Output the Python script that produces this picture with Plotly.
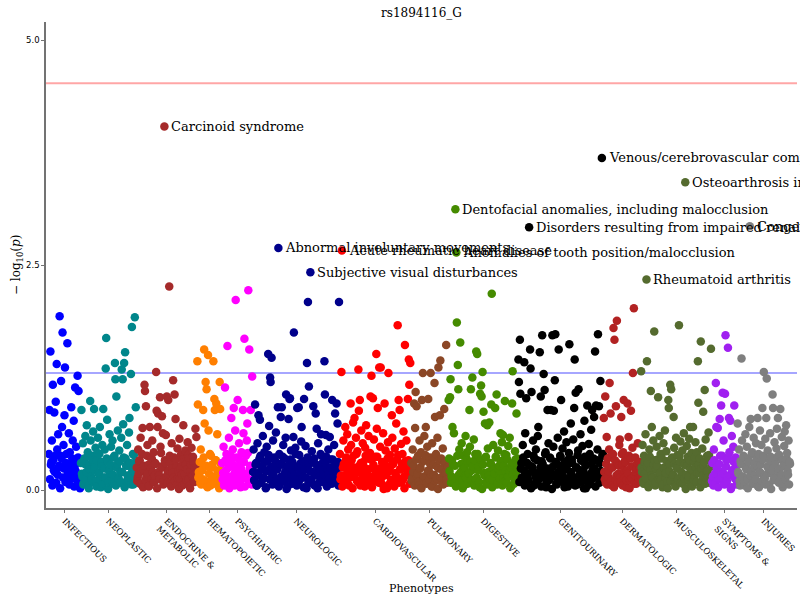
import plotly.graph_objects as go

TITLE = "rs1894116_G"
X_TITLE = "Phenotypes"
Y_TITLE = "− log<sub>10</sub>(<i>p</i>)"
CATEGORIES = ["INFECTIOUS", "NEOPLASTIC", "ENDOCRINE &<br>METABOLIC", "HEMATOPOIETIC",
              "PSYCHIATRIC", "NEUROLOGIC", "CARDIOVASCULAR", "PULMONARY", "DIGESTIVE",
              "GENITOURINARY", "DERMATOLOGIC", "MUSCULOSKELETAL", "SYMPTOMS &<br>SIGNS", "INJURIES"]
COLORS = ["#0000FF", "#00868B", "#A52A2A", "#FF7F00", "#FF00FF", "#00008B", "#FF0000",
          "#8B4726", "#458B00", "#000000", "#B22222", "#556B2F", "#A020F0", "#7F7F7F"]

# -log10(p) per phenotype, left to right within each category
INF = [0.40, 0.89, 1.54, 0.28, 0.55, 1.17, 0.33, 0.86, 0.20, 0.98, 1.40, 0.45, 0.62, 0.25, 1.93,
       0.38, 1.21, 0.70, 1.75, 0.50, 0.83, 1.36, 0.30, 0.10, 1.63, 0.22, 0.63, 0.42, 0.18, 0.92,
       0.35, 0.55, 0.77, 0.26, 1.14, 0.48, 0.14, 1.27, 1.10, 0.32, 0.02]
NEO = [0.30, 0.89, 0.15, 0.52, 0.08, 0.35, 0.60, 0.20, 0.72, 0.42, 0.05, 0.28, 0.99, 0.55, 0.12,
       0.38, 0.65, 0.90, 0.22, 0.47, 0.10, 0.33, 0.58, 0.18, 0.40, 0.70, 0.03, 0.26, 0.50, 0.90,
       0.14, 0.45, 1.35, 1.69, 0.78, 0.32, 0.09, 0.62, 0.24, 0.48, 0.16, 0.55, 0.36, 0.07, 1.41,
       1.23, 1.04, 0.29, 0.66, 0.12, 0.44, 0.20, 0.58, 1.34, 1.23, 0.73, 1.41, 1.53, 0.35, 0.10,
       0.50, 0.27, 0.64, 0.80, 0.17, 1.29, 1.81, 0.40, 0.06, 0.30, 1.92, 0.92]
ENDO = [0.25, 0.10, 0.45, 0.18, 0.33, 0.58, 0.07, 0.40, 0.69, 0.22, 1.17, 1.10, 0.93, 0.15, 0.50,
        0.28, 0.04, 0.70, 0.36, 0.12, 0.55, 0.20, 0.42, 0.09, 0.30, 1.31, 0.88, 0.70, 0.85, 0.16,
        1.03, 0.48, 0.26, 0.82, 0.63, 0.11, 4.04, 0.30, 0.61, 1.04, 0.19, 1.00, 2.26, 0.38, 0.08,
        0.52, 0.24, 1.22, 0.14, 1.06, 0.79, 0.34, 0.06, 0.46, 0.21, 0.57, 0.13, 0.39, 0.27, 0.05,
        0.72, 0.31, 0.17, 0.44, 0.09, 0.23, 0.53, 0.12, 0.35, 0.02, 0.28, 0.47, 0.16, 0.37, 0.10,
        0.25, 0.68, 0.59]
HEMA = [1.43, 0.95, 0.20, 0.18, 0.08, 0.45, 0.30, 0.12, 0.89, 1.56, 0.74, 1.20, 1.12, 0.04, 1.50,
        0.66, 0.25, 0.05, 0.38, 0.28, 0.15, 1.43, 1.01, 0.89, 0.33, 0.96, 0.62, 0.10, 0.11, 1.20,
        0.90, 0.22]
PSY = [0.30, 0.12, 0.48, 0.05, 1.14, 0.22, 0.40, 1.60, 0.15, 0.58, 0.33, 0.08, 0.80, 0.26, 0.45,
       0.91, 0.18, 0.66, 2.11, 0.36, 1.00, 0.10, 0.52, 0.28, 0.03, 0.42, 0.20, 0.89, 0.63, 1.68,
       0.14, 0.38, 0.55, 0.74, 2.22, 1.56, 0.24, 0.89, 0.11, 1.26]
NEURO = [0.20, 0.45, 0.10, 0.95, 0.30, 0.05, 0.52, 0.83, 0.16, 0.78, 0.38, 0.08, 0.27, 0.60, 0.13,
         0.42, 0.22, 0.03, 0.48, 0.33, 1.51, 0.71, 1.25, 1.20, 1.47, 0.18, 0.55, 0.09, 0.36, 0.25,
         0.64, 0.12, 0.92, 2.69, 0.40, 0.06, 0.81, 0.92, 0.28, 0.50, 0.15, 0.35, 0.58, 1.06, 0.21,
         0.04, 0.79, 1.01, 1.02, 0.44, 0.17, 0.31, 0.59, 1.75, 0.11, 0.47, 0.26, 0.91, 0.07, 0.92,
         0.39, 0.19, 0.54, 0.70, 0.14, 0.32, 1.01, 0.23, 0.49, 0.02, 1.41, 2.09, 1.15, 0.29, 2.42,
         0.10, 0.43, 0.20, 0.93, 0.35, 0.05, 0.85, 0.68, 0.16, 0.52, 0.27, 0.09, 0.40, 0.62, 0.13,
         0.30, 0.22, 1.43, 1.06, 0.61, 0.37, 0.06, 0.45, 0.18, 0.59, 0.25, 0.08, 1.00, 0.34, 0.14,
         0.50, 0.85, 0.21, 0.96, 0.74, 0.31, 2.09]
CARDIO = [0.40, 0.12, 1.31, 2.66, 0.25, 0.55, 0.08, 0.70, 0.33, 0.18, 0.62, 0.45, 0.05, 0.28, 0.96,
          0.50, 0.15, 0.75, 0.38, 0.80, 0.22, 0.58, 0.10, 0.43, 1.34, 0.88, 1.00, 0.30, 0.66, 0.14,
          0.52, 0.26, 0.04, 0.47, 0.72, 0.19, 0.35, 0.60, 0.09, 0.41, 1.04, 1.27, 0.24, 1.02, 0.56,
          0.13, 0.37, 1.51, 0.68, 0.91, 0.20, 1.36, 0.48, 1.36, 0.07, 0.31, 0.63, 0.16, 0.96, 0.44,
          0.27, 0.02, 0.53, 1.30, 0.21, 0.39, 0.11, 0.83, 0.58, 0.29, 0.06, 0.46, 0.17, 0.74, 0.34,
          1.83, 1.00, 0.89, 0.23, 0.51, 0.09, 0.40, 0.65, 0.15, 1.61, 0.32, 0.55, 0.20, 1.01, 1.45,
          1.17, 1.41]
PULM = [0.30, 0.10, 0.45, 0.20, 0.96, 0.69, 1.09, 0.93, 0.15, 0.38, 0.05, 0.55, 0.25, 0.42, 1.00,
        1.30, 0.12, 0.60, 0.33, 0.70, 0.08, 0.48, 1.01, 0.22, 0.36, 1.30, 0.17, 0.52, 0.04, 0.28,
        1.19, 0.81, 0.40, 0.13, 0.58, 1.36, 0.24, 0.83, 1.44, 0.35, 0.07, 0.46, 0.19, 0.90, 0.31,
        1.61, 0.11, 0.26]
DIG = [1.00, 0.35, 1.03, 1.23, 0.15, 0.70, 0.28, 0.63, 0.08, 3.12, 2.64, 1.86, 1.39, 1.12, 0.45,
       1.64, 0.20, 0.52, 0.10, 0.38, 0.05, 0.25, 0.60, 0.14, 0.42, 0.30, 0.18, 0.89, 0.48, 1.12,
       0.22, 1.25, 0.07, 0.56, 0.33, 0.12, 1.54, 1.51, 0.40, 0.26, 0.03, 1.07, 1.16, 1.04, 1.31,
       0.87, 0.19, 0.74, 0.36, 0.09, 0.72, 0.46, 0.16, 0.75, 0.29, 0.95, 2.18, 0.11, 0.50, 0.23,
       0.91, 0.37, 1.06, 0.06, 0.44, 0.27, 0.17, 0.63, 0.32, 0.53, 0.61, 0.13, 0.40, 0.99, 0.21,
       0.08, 0.34, 0.49, 0.15, 0.58, 0.25, 0.04, 0.96, 1.32, 0.30, 0.12, 0.43, 0.20, 0.85, 0.35]
GU = [1.45, 1.20, 1.67, 1.07, 0.30, 0.12, 0.50, 0.22, 1.42, 0.63, 1.02, 0.08, 0.40, 0.18, 2.92,
      1.56, 1.35, 1.09, 0.26, 0.55, 0.05, 0.35, 0.15, 0.45, 0.10, 0.60, 0.70, 0.20, 1.53, 1.04,
      0.32, 1.72, 0.14, 1.29, 1.11, 0.42, 0.03, 0.24, 0.89, 0.52, 0.11, 0.36, 0.89, 0.19, 1.72,
      0.48, 0.88, 1.22, 1.73, 0.07, 0.29, 0.58, 1.56, 0.16, 0.38, 1.00, 0.23, 0.46, 0.09, 0.65,
      0.31, 0.13, 0.53, 0.27, 0.04, 0.41, 1.62, 0.20, 0.74, 0.34, 0.12, 0.56, 0.91, 1.45, 1.08,
      0.25, 0.06, 0.44, 1.12, 0.17, 0.62, 0.33, 0.10, 0.49, 0.21, 0.77, 0.37, 0.02, 0.28, 0.94,
      0.15, 0.51, 0.40, 0.08, 0.67, 0.89, 0.22, 0.35, 0.81, 1.54, 0.94, 0.18, 0.45, 1.73, 0.93,
      0.30, 1.21, 0.15, 3.69, 0.40]
DERM = [0.80, 0.20, 1.04, 0.08, 0.59, 0.35, 0.15, 0.45, 1.19, 0.85, 0.25, 0.05, 0.40, 1.80, 1.67,
        0.12, 0.93, 1.88, 0.30, 0.18, 0.50, 0.56, 0.09, 0.81, 0.28, 0.42, 1.00, 0.14, 0.33, 0.03,
        0.22, 0.96, 0.59, 0.38, 0.11, 0.88, 0.26, 0.47, 1.30, 2.02, 0.16, 0.36, 0.07, 0.24, 0.52,
        0.13, 0.31, 0.20]
MSK = [1.32, 0.25, 0.50, 0.10, 0.38, 0.18, 0.62, 2.34, 1.43, 0.30, 0.05, 0.45, 0.22, 1.10, 0.70,
       0.14, 0.55, 1.76, 0.33, 0.08, 0.48, 0.27, 1.03, 0.16, 0.60, 0.40, 0.12, 0.35, 0.03, 0.52,
       0.24, 0.66, 0.19, 0.43, 0.09, 1.00, 0.91, 0.29, 1.17, 1.12, 0.36, 0.15, 0.81, 0.47, 0.06,
       0.58, 0.26, 0.39, 0.13, 1.83, 0.32, 0.54, 0.20, 0.44, 0.07, 0.63, 0.28, 3.42, 0.17, 0.49,
       0.37, 0.11, 0.57, 0.70, 0.23, 0.41, 0.04, 0.70, 0.31, 0.15, 0.53, 0.25, 0.42, 1.43, 0.97,
       0.19, 0.35, 1.65, 0.10, 0.46, 0.87, 0.27, 1.11, 0.56, 0.14, 0.38, 0.21, 0.64, 0.08, 0.33,
       1.57]
SYM = [0.10, 0.30, 0.05, 0.45, 0.18, 1.19, 0.70, 0.25, 0.69, 0.12, 0.79, 0.38, 0.94, 0.20, 1.08,
       0.55, 0.08, 1.07, 1.72, 0.33, 0.15, 1.58, 0.80, 0.42, 0.77, 0.03, 0.60, 0.22, 0.48, 0.94,
       0.14, 0.36, 0.06]
INJ = [0.74, 0.20, 0.45, 0.10, 0.32, 1.46, 0.55, 0.15, 0.38, 0.05, 0.62, 0.25, 0.48, 0.12, 0.35,
       0.70, 2.93, 0.79, 0.22, 0.42, 0.08, 0.58, 0.30, 0.16, 0.52, 0.27, 0.80, 0.40, 0.03, 0.66,
       0.19, 0.50, 0.91, 0.34, 1.31, 0.13, 0.57, 0.80, 1.24, 0.44, 0.24, 0.06, 0.63, 0.37, 0.18,
       1.06, 0.91, 0.29, 0.53, 0.11, 0.46, 0.68, 0.80, 0.21, 0.39, 0.90, 0.14, 0.59, 0.33, 0.07,
       0.49, 0.65, 0.26, 0.72, 0.41, 0.17, 0.55, 0.31]

# the densely packed non-significant phenotypes near the baseline, per category
INF_LOW = [0.12, 0.31, 0.05, 0.22, 0.38, 0.08, 0.17, 0.27, 0.02, 0.35, 0.14, 0.24, 0.09, 0.40, 0.19,
           0.06, 0.29, 0.13, 0.33, 0.04, 0.21, 0.11, 0.36, 0.16, 0.07]
NEO_LOW = [0.18, 0.06, 0.29, 0.12, 0.37, 0.02, 0.23, 0.15, 0.33, 0.09, 0.26, 0.04, 0.41, 0.19, 0.11,
           0.31, 0.07, 0.24, 0.14, 0.35, 0.01, 0.21, 0.28, 0.10, 0.17, 0.38, 0.05, 0.25, 0.13, 0.32,
           0.08, 0.20, 0.36, 0.03, 0.27, 0.16, 0.11, 0.30, 0.06, 0.22, 0.39, 0.14, 0.09]
ENDO_LOW = [0.14, 0.32, 0.07, 0.21, 0.03, 0.27, 0.11, 0.38, 0.18, 0.05, 0.24, 0.35, 0.09, 0.16, 0.29,
            0.02, 0.20, 0.12, 0.41, 0.25, 0.06, 0.33, 0.15, 0.08, 0.22, 0.30, 0.04, 0.19, 0.36, 0.10,
            0.26, 0.13, 0.01, 0.23, 0.17, 0.34, 0.07, 0.28, 0.11, 0.39, 0.05, 0.21, 0.15, 0.31, 0.09,
            0.18, 0.26]
HEMA_LOW = [0.14, 0.31, 0.06, 0.22, 0.36, 0.10, 0.27, 0.03, 0.18, 0.40, 0.12, 0.25, 0.07, 0.33, 0.16,
            0.21, 0.02, 0.29, 0.09]
PSY_LOW = [0.19, 0.07, 0.33, 0.14, 0.25, 0.02, 0.38, 0.11, 0.28, 0.05, 0.21, 0.16, 0.35, 0.09, 0.24,
           0.13, 0.31, 0.04, 0.18, 0.41, 0.10, 0.27, 0.06, 0.22]
NEURO_LOW = [0.11, 0.28, 0.05, 0.19, 0.35, 0.08, 0.24, 0.14, 0.31, 0.02, 0.21, 0.39, 0.12, 0.26, 0.06,
             0.17, 0.33, 0.09, 0.23, 0.04, 0.29, 0.15, 0.37, 0.10, 0.20, 0.01, 0.27, 0.13, 0.34, 0.07,
             0.22, 0.16, 0.40, 0.05, 0.25, 0.11, 0.30, 0.18, 0.03, 0.26, 0.14, 0.36, 0.08, 0.21, 0.12,
             0.32, 0.06, 0.19, 0.28, 0.02, 0.24, 0.15, 0.38, 0.09, 0.17, 0.30, 0.04, 0.23, 0.13, 0.34,
             0.07, 0.20, 0.27, 0.11, 0.16, 0.05, 0.25]
CARDIO_LOW = [0.16, 0.04, 0.29, 0.11, 0.36, 0.07, 0.22, 0.14, 0.33, 0.02, 0.25, 0.18, 0.40, 0.09, 0.27,
              0.05, 0.20, 0.31, 0.12, 0.38, 0.06, 0.23, 0.15, 0.34, 0.03, 0.28, 0.10, 0.19, 0.37, 0.08,
              0.24, 0.13, 0.30, 0.01, 0.21, 0.17, 0.35, 0.06, 0.26, 0.11, 0.32, 0.04, 0.19, 0.14, 0.39,
              0.08, 0.23, 0.29, 0.12, 0.02, 0.25, 0.16, 0.33, 0.07, 0.21]
PULM_LOW = [0.13, 0.27, 0.05, 0.34, 0.18, 0.09, 0.24, 0.02, 0.31, 0.15, 0.39, 0.07, 0.21, 0.12, 0.29,
            0.04, 0.36, 0.17, 0.10, 0.26, 0.01, 0.33, 0.14, 0.23, 0.06, 0.30, 0.19, 0.08, 0.25]
DIG_LOW = [0.21, 0.08, 0.33, 0.13, 0.27, 0.04, 0.38, 0.17, 0.10, 0.29, 0.02, 0.24, 0.15, 0.35, 0.07,
           0.19, 0.31, 0.11, 0.26, 0.05, 0.40, 0.14, 0.22, 0.09, 0.34, 0.01, 0.28, 0.16, 0.37, 0.06,
           0.20, 0.12, 0.30, 0.03, 0.25, 0.18, 0.36, 0.08, 0.23, 0.13, 0.32, 0.05, 0.27, 0.10, 0.39,
           0.15, 0.21, 0.02, 0.29, 0.17, 0.07, 0.34, 0.12, 0.24]
GU_LOW = [0.09, 0.24, 0.14, 0.36, 0.05, 0.19, 0.30, 0.11, 0.27, 0.02, 0.22, 0.38, 0.07, 0.16, 0.33,
          0.12, 0.25, 0.04, 0.29, 0.18, 0.40, 0.08, 0.21, 0.13, 0.35, 0.01, 0.26, 0.15, 0.31, 0.06,
          0.20, 0.10, 0.37, 0.17, 0.28, 0.03, 0.23, 0.12, 0.34, 0.07, 0.19, 0.30, 0.14, 0.05, 0.25,
          0.39, 0.09, 0.22, 0.16, 0.32, 0.02, 0.27, 0.11, 0.36, 0.06, 0.18, 0.29, 0.13, 0.24, 0.04,
          0.33, 0.15, 0.08, 0.21, 0.38, 0.10]
DERM_LOW = [0.12, 0.29, 0.06, 0.21, 0.37, 0.10, 0.25, 0.03, 0.33, 0.16, 0.08, 0.27, 0.14, 0.40, 0.05,
            0.22, 0.31, 0.11, 0.18, 0.02, 0.35, 0.13, 0.26, 0.07, 0.20, 0.30, 0.09, 0.24, 0.15]
MSK_LOW = [0.20, 0.07, 0.31, 0.13, 0.26, 0.03, 0.37, 0.16, 0.09, 0.28, 0.05, 0.23, 0.34, 0.12, 0.19,
           0.40, 0.06, 0.25, 0.14, 0.32, 0.02, 0.21, 0.10, 0.35, 0.17, 0.29, 0.04, 0.24, 0.11, 0.38,
           0.08, 0.18, 0.30, 0.13, 0.01, 0.27, 0.15, 0.33, 0.06, 0.22, 0.12, 0.36, 0.09, 0.19, 0.28,
           0.03, 0.24, 0.16, 0.31, 0.07, 0.21, 0.14, 0.39, 0.10, 0.26]
SYM_LOW = [0.15, 0.33, 0.08, 0.24, 0.03, 0.29, 0.12, 0.38, 0.19, 0.06, 0.26, 0.10, 0.35, 0.17, 0.01,
           0.22, 0.31, 0.13, 0.27, 0.09]
INJ_LOW = [0.18, 0.05, 0.29, 0.13, 0.36, 0.09, 0.23, 0.02, 0.31, 0.16, 0.40, 0.07, 0.25, 0.12, 0.34,
           0.04, 0.20, 0.28, 0.10, 0.38, 0.15, 0.06, 0.26, 0.19, 0.33, 0.01, 0.22, 0.11, 0.30, 0.14,
           0.37, 0.08, 0.24, 0.17, 0.03, 0.27, 0.12, 0.35, 0.21, 0.06, 0.29]

SERIES = [INF, NEO, ENDO, HEMA, PSY, NEURO, CARDIO, PULM, DIG, GU, DERM, MSK, SYM, INJ]
SERIES_LOW = [INF_LOW, NEO_LOW, ENDO_LOW, HEMA_LOW, PSY_LOW, NEURO_LOW, CARDIO_LOW, PULM_LOW,
              DIG_LOW, GU_LOW, DERM_LOW, MSK_LOW, SYM_LOW, INJ_LOW]

# thresholds (-log10 p)
BONFERRONI = 4.52
NOMINAL = 1.30
LABEL_THRESHOLD = 2.3
# names of the labelled phenotypes (points above LABEL_THRESHOLD), left to right
LABEL_NAMES = ["Carcinoid syndrome", "Abnormal involuntary movements", "Subjective visual disturbances",
               "Acute rheumatic heart disease", "Dentofacial anomalies, including malocclusion",
               "Anomalies of tooth position/malocclusion",
               "Disorders resulting from impaired renal function",
               "Venous/cerebrovascular complications in pregnancy",
               "Rheumatoid arthritis", "Osteoarthrosis involving more than one site",
               "Congenital anomalies"]


def merge(main, low):
    """Spread the baseline phenotypes evenly among the others, keeping order."""
    out, k = [], 0
    for i, v in enumerate(main):
        out.append(v)
        target = (i + 1) * len(low) // len(main)
        while k < target:
            out.append(low[k])
            k += 1
    return out


SERIF = "DejaVu Serif"
fig = go.Figure()
start = 0
tickvals = []
labelled = []
for cat, col, main, low in zip(CATEGORIES, COLORS, SERIES, SERIES_LOW):
    vals = merge(main, low)
    xs = list(range(start, start + len(vals)))
    fig.add_trace(go.Scatter(x=xs, y=vals, mode="markers", name=cat.replace("<br>", " "),
                             marker=dict(color=col, size=8.5, line=dict(width=0)),
                             showlegend=False, cliponaxis=False, hoverinfo="skip"))
    tickvals.append(start + (len(vals) - 1) / 2)
    for x, v in zip(xs, vals):
        if v > LABEL_THRESHOLD:
            labelled.append((x, v))
    start += len(vals)
N = start
labelled.sort()
for (x, v), name in zip(labelled, LABEL_NAMES):
    fig.add_annotation(x=x, y=v, text=name, showarrow=False, xanchor="left", yanchor="middle",
                       xshift=5, font=dict(family=SERIF, size=13, color="#000000"))

fig.add_hline(y=BONFERRONI, line=dict(color="rgba(255,0,0,0.35)", width=2), layer="below")
fig.add_hline(y=NOMINAL, line=dict(color="rgba(0,0,255,0.35)", width=2), layer="below")

# axis titles
fig.add_annotation(xref="paper", yref="paper", x=0.5, y=0, yshift=-80, text=X_TITLE,
                   showarrow=False, xanchor="center", yanchor="middle",
                   font=dict(family=SERIF, size=11, color="#000000"))
fig.add_annotation(xref="paper", yref="paper", x=0, xshift=-29, y=0.5, text=Y_TITLE,
                   textangle=-90, showarrow=False, xanchor="center", yanchor="middle",
                   font=dict(family=SERIF, size=12, color="#000000"))

fig.update_layout(
    width=800, height=600,
    margin=dict(l=46, r=3, t=22, b=92, autoexpand=False),
    paper_bgcolor="white", plot_bgcolor="white",
    title=dict(text=TITLE, xref="paper", x=0.5, xanchor="center", y=0.985, yanchor="top",
               font=dict(family=SERIF, size=12, color="#000000")),
    font=dict(family=SERIF, color="#000000"),
)
span = N - 1
fig.update_xaxes(range=[-0.004 * span, 1.0094 * span], tickvals=tickvals, ticktext=CATEGORIES,
                 tickangle=45, tickfont=dict(family=SERIF, size=8.5, color="#000000"),
                 automargin=False, showgrid=False, zeroline=False, showline=True,
                 linecolor="#737373", linewidth=1.5, ticks="outside", ticklen=3, tickcolor="#737373")
fig.update_yaxes(range=[-0.2, 5.2], tickvals=[0, 2.5, 5.0], ticktext=["0.0", "2.5", "5.0"],
                 tickfont=dict(family="DejaVu Sans", size=8.5, color="#000000"), automargin=False,
                 showgrid=False, zeroline=False, showline=True, linecolor="#737373", linewidth=1.5,
                 ticks="outside", ticklen=3, tickcolor="#737373")

fig.write_html("out.html", config={"displayModeBar": False},
               post_script="document.body.style.margin='0';document.body.style.overflow='hidden';")
